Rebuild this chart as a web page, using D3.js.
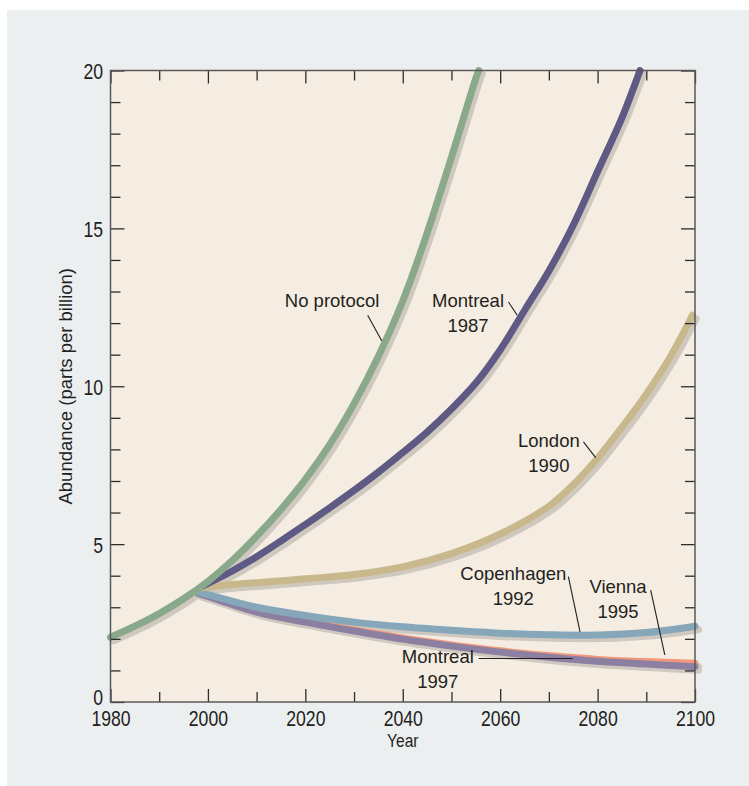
<!DOCTYPE html>
<html>
<head>
<meta charset="utf-8">
<script src="https://cdn.jsdelivr.net/npm/d3@7"></script>
<style>
  body { margin: 0; background: #ffffff; }
  svg { display: block; }
  .tick text { font-family: "Liberation Sans", Arial, sans-serif; font-size: 21.5px; fill: #231f20; }
  .tick line { stroke: #2e2b2b; stroke-width: 1.3; }
  .label { font-family: "Liberation Sans", Arial, sans-serif; font-size: 18.5px; fill: #231f20; }
</style>
</head>
<body>
<div id="chart"></div>
<script>
// No protocol
var noProtocolYears  = [1980, 1985, 1990, 1995, 2000, 2005, 2010, 2015, 2020, 2025, 2030, 2035, 2040, 2045, 2050, 2055, 2055.6];
var noProtocolValues = [2.05, 2.4, 2.8, 3.27, 3.82, 4.48, 5.25, 6.1, 7.05, 8.15, 9.45, 10.95, 12.7, 14.85, 17.25, 19.75, 20];

// Montreal 1987
var montreal87Years  = [1999, 2005, 2010, 2015, 2020, 2025, 2030, 2035, 2040, 2045, 2050, 2055, 2060, 2065, 2070, 2075, 2080, 2085, 2088.7];
var montreal87Values = [3.68, 4.15, 4.6, 5.1, 5.62, 6.15, 6.7, 7.28, 7.9, 8.55, 9.28, 10.1, 11.15, 12.4, 13.65, 15.1, 16.8, 18.5, 20];

// London 1990
var londonYears  = [1999, 2005, 2010, 2020, 2030, 2040, 2050, 2060, 2070, 2075, 2080, 2085, 2090, 2095, 2099.5];
var londonValues = [3.62, 3.72, 3.78, 3.9, 4.04, 4.28, 4.7, 5.32, 6.2, 6.88, 7.72, 8.7, 9.75, 10.95, 12.25];

// Copenhagen 1992, Vienna 1995, Montreal 1997
var lateYears         = [1998, 2000, 2010, 2020, 2030, 2040, 2050, 2060, 2070, 2080, 2090, 2100];
var copenhagenValues  = [3.47, 3.4, 3.0, 2.74, 2.53, 2.38, 2.27, 2.18, 2.13, 2.12, 2.2, 2.4];
var viennaValues      = [3.44, 3.35, 2.86, 2.55, 2.28, 2.03, 1.81, 1.62, 1.47, 1.35, 1.28, 1.23];
var montreal97Values  = [3.44, 3.34, 2.85, 2.53, 2.25, 1.99, 1.77, 1.58, 1.42, 1.29, 1.2, 1.12];

// annotations (data units: year, value of first baseline)
var labelLines  = [["No protocol"], ["Montreal", "1987"], ["London", "1990"], ["Copenhagen", "1992"], ["Vienna", "1995"], ["Montreal", "1997"]];
var labelYears  = [2025.5, 2053.4, 2070.0, 2062.7, 2084.2, 2047.2];
var labelValues = [12.51, 12.51, 8.08, 3.86, 3.44, 1.22];
var leaderFrom  = [[2032.8, 12.25], [2061.7, 12.67], [2077.1, 8.24], [2074.0, 3.97], [2090.9, 3.54], [2055.6, 1.38]];
var leaderTo    = [[2035.7, 11.43], [2063.5, 12.25], [2079.6, 7.74], [2076.4, 2.22], [2093.8, 1.49], [2074.9, 1.38]];

var xTicks = d3.range(1980, 2101, 10);
var yTicks = d3.range(0, 21, 1);

var W = 749, H = 786;

var svg = d3.select("#chart").append("svg")
    .attr("width", W)
    .attr("height", H);

svg.append("rect")
    .attr("x", 7).attr("y", 10)
    .attr("width", W - 7).attr("height", H - 10)
    .attr("fill", "#eceff0");

var x = d3.scaleLinear().domain([1980, 2100]).range([110.5, 695]);
var y = d3.scaleLinear().domain([0, 20]).range([702, 70.5]);

svg.append("rect")
    .attr("x", x(1980)).attr("y", y(20))
    .attr("width", x(2100) - x(1980)).attr("height", y(0) - y(20))
    .attr("fill", "#f5ede2");

// series, drawn bottom first
var series = [
  {years: lateYears, values: viennaValues, color: "#f2987a"},
  {years: lateYears, values: montreal97Values, color: "#8b80a2"},
  {years: lateYears, values: copenhagenValues, color: "#86a6ba"},
  {years: londonYears, values: londonValues, color: "#c8b88c"},
  {years: montreal87Years, values: montreal87Values, color: "#5f5a84"},
  {years: noProtocolYears, values: noProtocolValues, color: "#8aa98b"}
];

var line = d3.line()
    .x(function(d) { return x(d[0]); })
    .y(function(d) { return y(d[1]); })
    .curve(d3.curveCatmullRom.alpha(0.5));

function pts(s) { return s.years.map(function(yr, i) { return [yr, s.values[i]]; }); }

svg.append("g").selectAll("path")
    .data(series)
    .enter().append("path")
      .attr("transform", "translate(3.5,3.5)")
      .attr("fill", "none")
      .attr("stroke", "#cfc8bf")
      .attr("stroke-width", 7)
      .attr("stroke-linecap", "round")
      .attr("d", function(d) { return line(pts(d)); });

svg.append("g").selectAll("path")
    .data(series)
    .enter().append("path")
      .attr("fill", "none")
      .attr("stroke", function(d) { return d.color; })
      .attr("stroke-width", 7)
      .attr("stroke-linecap", "round")
      .attr("d", function(d) { return line(pts(d)); });

// axes: ticks point inward on all four sides
var axBottom = svg.append("g")
    .attr("transform", "translate(0," + y(0) + ")")
    .call(d3.axisBottom(x).tickValues(xTicks).tickSizeInner(-10).tickSizeOuter(0).tickPadding(9)
      .tickFormat(function(d) { return d % 20 === 0 ? d : ""; }));
axBottom.selectAll(".tick line").attr("y2", function(d) { return d % 20 === 0 ? -13 : -10; });

var axTop = svg.append("g")
    .attr("transform", "translate(0," + y(20) + ")")
    .call(d3.axisTop(x).tickValues(xTicks).tickSizeInner(-10).tickSizeOuter(0).tickFormat(""));
axTop.selectAll(".tick line").attr("y2", function(d) { return d % 20 === 0 ? 13 : 10; });

var axLeft = svg.append("g")
    .attr("transform", "translate(" + x(1980) + ",0)")
    .call(d3.axisLeft(y).tickValues(yTicks).tickSizeInner(-10).tickSizeOuter(0).tickPadding(0)
      .tickFormat(function(d) { return d % 5 === 0 ? d : ""; }));
axLeft.selectAll(".tick line").attr("x2", function(d) { return d % 5 === 0 ? 14 : 10; });
axLeft.selectAll(".tick text")
    .attr("x", -9)
    .attr("dy", function(d) { return d === 0 ? "0.1em" : "0.38em"; });

var axRight = svg.append("g")
    .attr("transform", "translate(" + x(2100) + ",0)")
    .call(d3.axisRight(y).tickValues(yTicks).tickSizeInner(-10).tickSizeOuter(0).tickFormat(""));
axRight.selectAll(".tick line").attr("x2", function(d) { return d % 5 === 0 ? -14 : -10; });

// condensed look for the tick labels
svg.selectAll(".tick text").attr("transform", "scale(0.82,1)");

svg.selectAll(".domain").remove();

svg.append("rect")
    .attr("x", x(1980)).attr("y", y(20))
    .attr("width", x(2100) - x(1980)).attr("height", y(0) - y(20))
    .attr("fill", "none")
    .attr("stroke", "#5a5858")
    .attr("stroke-width", 1.5);

// axis titles
svg.append("g")
    .attr("transform", "translate(" + (x(1980) + x(2100)) / 2 + ",747) scale(0.82,1)")
  .append("text")
    .attr("text-anchor", "middle")
    .style("font-family", "'Liberation Sans', Arial, sans-serif")
    .style("font-size", "19px")
    .style("fill", "#231f20")
    .text("Year");

svg.append("text")
    .attr("transform", "translate(72," + (y(0) + y(20)) / 2 + ") rotate(-90)")
    .attr("text-anchor", "middle")
    .style("font-family", "'Liberation Sans', Arial, sans-serif")
    .style("font-size", "18.5px")
    .style("fill", "#231f20")
    .text("Abundance (parts per billion)");

// annotations
var ann = svg.append("g");
labelLines.forEach(function(lines, i) {
  var t = ann.append("text")
      .attr("class", "label")
      .attr("text-anchor", "middle")
      .attr("x", x(labelYears[i]))
      .attr("y", y(labelValues[i]));
  lines.forEach(function(s, j) {
    t.append("tspan")
      .attr("x", x(labelYears[i]))
      .attr("dy", j === 0 ? 0 : 25)
      .text(s);
  });
  ann.append("line")
      .attr("x1", x(leaderFrom[i][0])).attr("y1", y(leaderFrom[i][1]))
      .attr("x2", x(leaderTo[i][0])).attr("y2", y(leaderTo[i][1]))
      .attr("stroke", "#231f20")
      .attr("stroke-width", 1.1);
});
</script>
</body>
</html>
